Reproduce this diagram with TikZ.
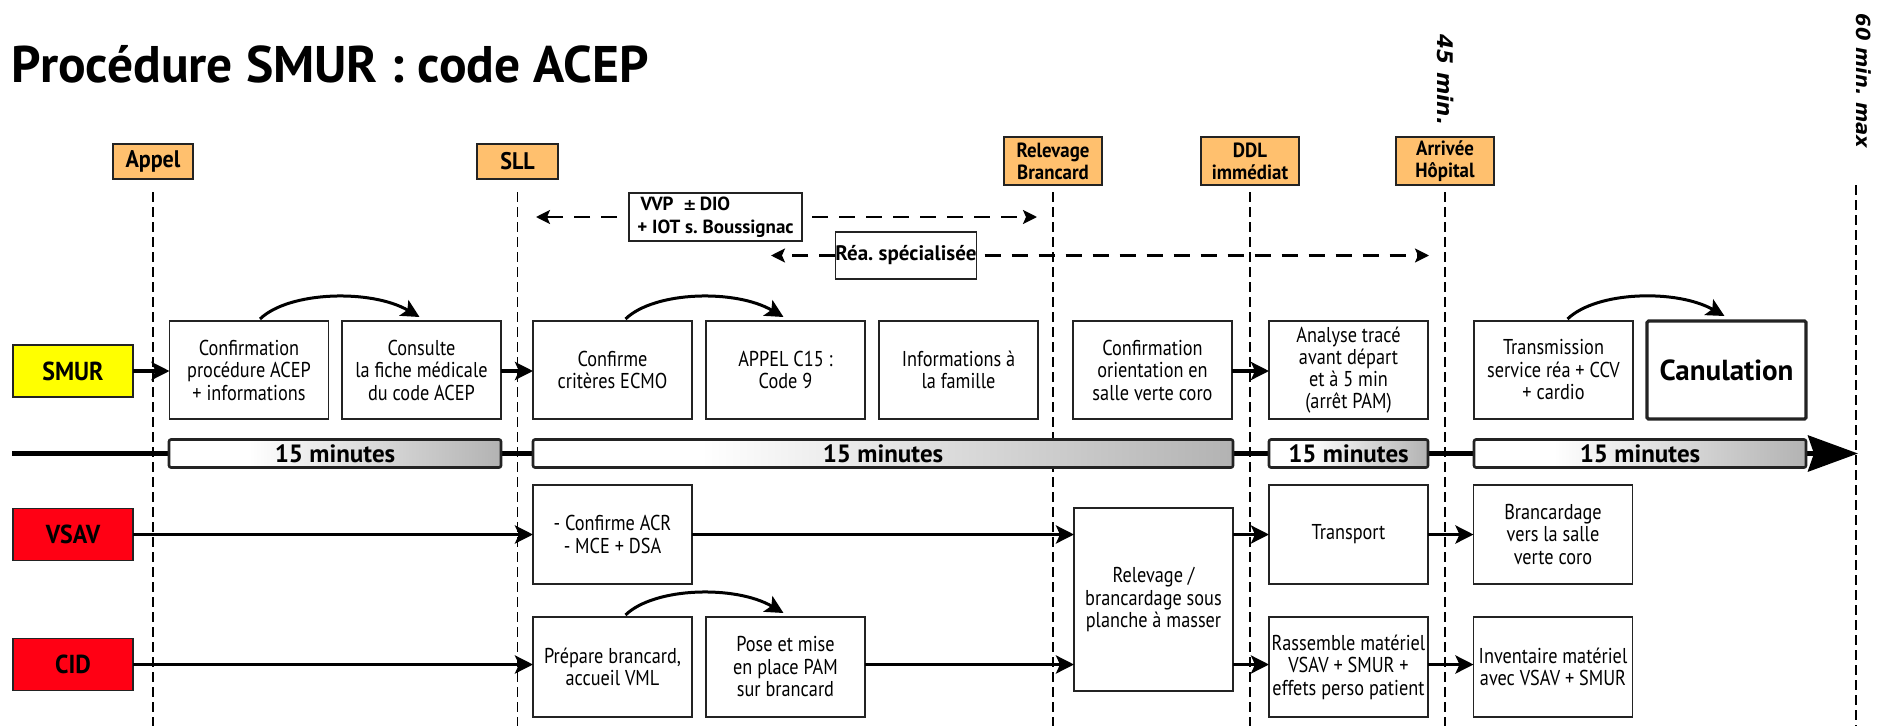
\documentclass[tikz,border=0pt]{standalone}
\usepackage{fontspec}
\usetikzlibrary{arrows.meta,calc,shadings}
\setmainfont{PT Sans}
\newfontfamily\condf[FakeStretch=0.85]{PT Sans}
\newfontfamily\semif[FakeStretch=0.92]{PT Sans}
\newfontfamily\titlef[FakeStretch=1.0]{PT Sans}
\newfontfamily\obliq{DejaVu Sans}
\definecolor{orangem}{RGB}{255,192,110}
\definecolor{redl}{RGB}{255,0,20}
\definecolor{yell}{RGB}{255,255,0}
\definecolor{bord}{RGB}{35,35,35}
\pgfdeclarehorizontalshading{barshade}{100bp}{color(0bp)=(white); color(37bp)=(white); color(75bp)=(black!30); color(100bp)=(black!30)}
\frenchspacing
\begin{document}
\begin{tikzpicture}[x=1pt,y=-1pt,
  every node/.style={inner sep=0pt, outer sep=0pt},
  mile/.style={draw=bord, line width=1.6pt, fill=orangem, align=center, font=\semif\bfseries\fontsize{20.5}{22}\selectfont},
  box/.style={draw=bord, line width=1.3pt, fill=white, minimum width=159pt, minimum height=98pt, align=center, font=\condf\fontsize{21.5}{22.5}\selectfont},
  lane/.style={draw=bord, line width=1.4pt, minimum width=120pt, minimum height=52pt, font=\semif\bfseries\fontsize{26}{28}\selectfont},
  bar/.style={draw=bord, line width=2.6pt, rounded corners=2pt, shade, shading=barshade, minimum height=28pt, font=\bfseries\fontsize{25}{27}\selectfont},
  vline/.style={line width=1.3pt, dash pattern=on 10pt off 5pt},
  darr/.style={line width=2.4pt, dash pattern=on 16pt off 11pt, -{Stealth[length=14pt,width=14pt,inset=3pt]}},
  larr/.style={line width=3.5pt, -{Stealth[length=18pt,width=18pt,inset=4pt]}},
  carr/.style={line width=3pt, -{Stealth[length=18pt,width=18pt,inset=4pt]}},
  rot/.style={rotate=-90, font=\obliq\bfseries\itshape\fontsize{19.5}{22}\selectfont},
  dbox/.style={draw=bord, line width=1.5pt, fill=white, font=\bfseries\fontsize{19}{23}\selectfont},
]
\useasboundingbox (0,0) rectangle (1888,726);
% title
\node[anchor=base west, font=\titlef\bfseries\fontsize{51.5}{56}\selectfont] (title) at (12,82) {Procédure SMUR : code ACEP};
% milestones
\node[mile, minimum width=80pt, minimum height=35pt, font=\semif\bfseries\fontsize{24}{26}\selectfont] (mA) at (153,161.5) {Appel};
\node[mile, minimum width=81pt, minimum height=35pt, font=\semif\bfseries\fontsize{24}{26}\selectfont] (mS) at (517.5,161.5) {SLL};
\node[mile, minimum width=98pt, minimum height=48pt] (mR) at (1053,161) {Relevage\\Brancard};
\node[mile, minimum width=98pt, minimum height=48pt] (mD) at (1250,161) {DDL\\immédiat};
\node[mile, minimum width=98pt, minimum height=48pt] (mH) at (1445,161) {Arrivée\\Hôpital};
\node[rot, font=\obliq\bfseries\itshape\fontsize{21.5}{22}\selectfont] (t45) at (1445,80) {45 min.};
\node[rot] (t60) at (1864,81) {60 min. max};
% vertical dashed lines
\coordinate (top) at (0,192);
\coordinate (bot) at (0,726);
\coordinate (m60) at (1856,185);
\foreach \m in {mA,mS,mR,mD,mH} \draw[vline] (\m |- top) -- (\m |- bot);
\draw[vline] (m60) -- (m60 |- bot);
% dashed arrows
\node[dbox, minimum width=173pt, minimum height=48pt, align=left] (vvp) at (715.5,217) {\,VVP~~{\obliq\bfseries\fontsize{16}{20}\selectfont ±}\,DIO\\+ IOT s. Boussignac};
\node[dbox, minimum width=138pt, minimum height=47pt, font=\bfseries\fontsize{21}{22}\selectfont] (rea) at (906,255.5) {Réa. spécialisée};
\coordinate (vL) at (536,217);
\coordinate (vR) at (1037,217);
\coordinate (rL) at (771,255.5);
\coordinate (rR) at (1429,255.5);
\draw[darr] ($(vvp.west)+(-12,0)$) -- (vL);
\draw[darr] ($(vvp.east)+(10,0)$) -- (vR);
\draw[darr] (rea.west) -- (rL);
\draw[darr] ($(rea.east)+(8,0)$) -- (rR);
% timeline
\coordinate (tl0) at (12,453.5);
\coordinate (tl1) at (1858,453.5);
\draw[line width=5pt, -{Stealth[length=50pt,width=36pt,inset=6pt]}] (tl0) -- (tl1);
\node[bar, minimum width=332pt] (t1) at (335,453.5) {15 minutes};
\node[bar, minimum width=700pt] (t2) at (883,453.5) {15 minutes};
\node[bar, minimum width=159pt] (t3) at (1348.5,453.5) {15 minutes};
\node[bar, minimum width=332pt] (t4) at (1640,453.5) {15 minutes};
% lane labels
\node[lane, fill=yell] (smur) at (73,371) {SMUR};
\node[lane, fill=redl] (vsav) at (73,534.5) {VSAV};
\node[lane, fill=redl] (cid) at (73,664.5) {CID};
% SMUR lane
\node[box] (b1) at (249,370) {Confirmation\\procédure ACEP\\+ informations};
\node[box] (b2) at (421.5,370) {Consulte\\la fiche médicale\\du code ACEP};
\node[box] (b3) at (612.5,370) {Confirme\\critères ECMO};
\node[box] (b4) at (785.5,370) {APPEL C15 :\\Code 9};
\node[box] (b5) at (958.5,370) {Informations à\\la famille};
\node[box] (b6) at (1152.5,370) {Confirmation\\orientation en\\salle verte coro};
\node[box, font=\condf\fontsize{21.5}{22}\selectfont] (b7) at (1348.5,370) {Analyse tracé\\avant départ\\et à 5 min\\(arrêt PAM)};
\node[box] (b8) at (1553.5,370) {Transmission\\service réa + CCV\\+ cardio};
\node[box, line width=3.2pt, rounded corners=1.5pt, font=\bfseries\fontsize{29}{30}\selectfont] (b9) at (1726.5,370) {Canulation};
% VSAV lane
\node[box, minimum height=99pt] (v1) at (612.5,534.5) {- Confirme ACR\\- MCE + DSA};
\node[box, minimum height=183pt] (rel) at (1153.5,599.5) {Relevage /\\brancardage sous\\planche à masser};
\node[box, minimum height=99pt] (tr) at (1348.5,534.5) {Transport};
\node[box, minimum height=99pt] (br) at (1553,534.5) {Brancardage\\vers la salle\\verte coro};
% CID lane
\node[box, minimum height=100pt] (p1) at (612.5,667) {Prépare brancard,\\accueil VML};
\node[box, minimum height=100pt] (p2) at (785.5,667) {Pose et mise\\en place PAM\\sur brancard};
\node[box, minimum height=100pt] (ra) at (1348.5,667) {Rassemble matériel\\VSAV + SMUR +\\effets perso patient};
\node[box, minimum height=100pt] (inv) at (1553,667) {Inventaire matériel\\avec VSAV + SMUR};
% lane arrows
\draw[larr] (smur.east) -- (smur.east -| b1.west);
\draw[larr] (b2.east |- smur.east) -- (smur.east -| b3.west);
\draw[larr] (b6.east |- smur.east) -- (smur.east -| b7.west);
\draw[larr] (vsav.east) -- (vsav.east -| v1.west);
\draw[larr] (v1.east |- vsav.east) -- (vsav.east -| rel.west);
\draw[larr] (rel.east |- vsav.east) -- (vsav.east -| tr.west);
\draw[larr] (tr.east |- vsav.east) -- (vsav.east -| br.west);
\draw[larr] (cid.east) -- (cid.east -| p1.west);
\draw[larr] (p2.east |- cid.east) -- (cid.east -| rel.west);
\draw[larr] (rel.east |- cid.east) -- (cid.east -| ra.west);
\draw[larr] (ra.east |- cid.east) -- (cid.east -| inv.west);
% curved arrows
\draw[carr] ($(b1.north)+(11,-2)$) .. controls ($(b1.north)+(40,-30)$) and ($(b2.north)+(-50,-32)$) .. ($(b2.north)+(-2,-4)$);
\draw[carr] ($(b3.north)+(13,-2)$) .. controls ($(b3.north)+(42,-30)$) and ($(b4.north)+(-50,-32)$) .. ($(b4.north)+(-2,-4)$);
\draw[carr] ($(b8.north)+(14,-2)$) .. controls ($(b8.north)+(43,-30)$) and ($(b9.north)+(-50,-32)$) .. ($(b9.north)+(-2,-5)$);
\draw[carr] ($(p1.north)+(13,-2)$) .. controls ($(p1.north)+(42,-30)$) and ($(p2.north)+(-50,-32)$) .. ($(p2.north)+(-2,-4)$);
\end{tikzpicture}
\end{document}
